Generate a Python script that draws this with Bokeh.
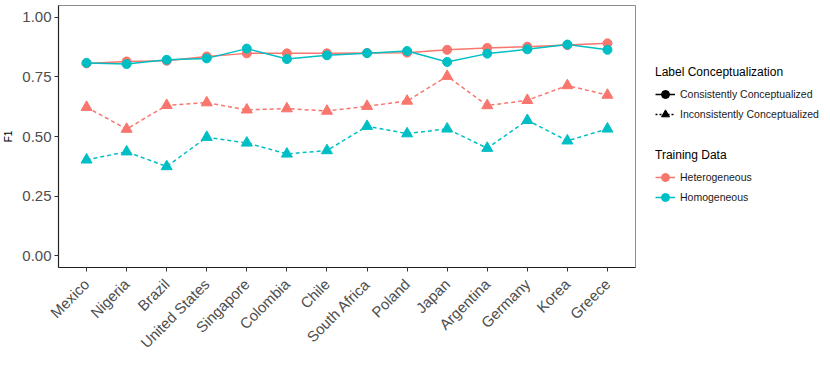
from bokeh.plotting import figure
from bokeh.layouts import row
from bokeh.models import (ColumnDataSource, FactorRange, Range1d, FixedTicker,
                          PrintfTickFormatter, Legend, LegendItem)
from bokeh.embed import file_html
from bokeh.resources import INLINE
import math

countries = ["Mexico", "Nigeria", "Brazil", "United States", "Singapore", "Colombia",
             "Chile", "South Africa", "Poland", "Japan", "Argentina", "Germany",
             "Korea", "Greece"]
het_consistent = [0.807, 0.815, 0.818, 0.836, 0.849, 0.849, 0.849, 0.851, 0.852,
                  0.864, 0.872, 0.877, 0.884, 0.891]
hom_consistent = [0.809, 0.804, 0.822, 0.828, 0.869, 0.825, 0.841, 0.850, 0.859,
                  0.813, 0.848, 0.866, 0.886, 0.864]
het_inconsistent = [0.623, 0.531, 0.631, 0.642, 0.612, 0.617, 0.607, 0.627, 0.649,
                    0.753, 0.630, 0.652, 0.714, 0.674]
hom_inconsistent = [0.402, 0.436, 0.374, 0.497, 0.473, 0.427, 0.441, 0.543, 0.512,
                    0.532, 0.451, 0.568, 0.482, 0.532]
y_ticks = [0.0, 0.25, 0.5, 0.75, 1.0]

RED = "#F8766D"
TEAL = "#00BFC4"
FONT = "Liberation Sans"
LW = 1.5
DASH = "4 3"

p = figure(width=636, height=374, output_backend="svg", toolbar_location=None,
           x_range=FactorRange(*countries, range_padding=0.2,
                               range_padding_units="absolute"),
           y_range=Range1d(-0.05, 1.05),
           min_border_left=58, min_border_right=1, min_border_top=5,
           min_border_bottom=107)
p.background_fill_color = "white"
p.border_fill_color = "white"
p.outline_line_color = "#8c8c8c"
p.outline_line_width = 1
p.xgrid.visible = False
p.ygrid.visible = False

for ax in (p.xaxis[0], p.yaxis[0]):
    ax.axis_line_color = "#222222"
    ax.axis_line_width = 1.2
    ax.major_tick_line_color = "#333333"
    ax.major_tick_out = 4
    ax.major_tick_in = 0
    ax.minor_tick_line_color = None
    ax.major_label_text_color = "#4D4D4D"
    ax.major_label_text_font = FONT
    ax.major_label_text_font_size = "15px"
    ax.major_label_standoff = 3

p.xaxis.major_label_orientation = math.pi / 4
p.xaxis.major_label_standoff = 10
p.yaxis.ticker = FixedTicker(ticks=y_ticks)
p.yaxis.formatter = PrintfTickFormatter(format="%.2f")
p.yaxis.axis_label = "F1"
p.yaxis.axis_label_text_font = FONT
p.yaxis.axis_label_text_font_size = "10px"
p.yaxis.axis_label_text_font_style = "normal"
p.yaxis.axis_label_text_color = "#000000"
p.yaxis.axis_label_standoff = 5

src = ColumnDataSource(dict(country=countries, het_c=het_consistent, hom_c=hom_consistent,
                            het_i=het_inconsistent, hom_i=hom_inconsistent))

p.line("country", "het_i", source=src, color=RED, line_width=LW, line_dash=DASH)
p.line("country", "hom_i", source=src, color=TEAL, line_width=LW, line_dash=DASH)
p.scatter("country", "het_i", source=src, marker="triangle", size=11,
          fill_color=RED, line_color=RED)
p.scatter("country", "hom_i", source=src, marker="triangle", size=11,
          fill_color=TEAL, line_color=TEAL)
p.line("country", "het_c", source=src, color=RED, line_width=LW)
p.line("country", "hom_c", source=src, color=TEAL, line_width=LW)
p.scatter("country", "het_c", source=src, marker="circle", size=9,
          fill_color=RED, line_color=RED)
p.scatter("country", "hom_c", source=src, marker="circle", size=9,
          fill_color=TEAL, line_color=TEAL)

# Legend panel as a separate, axis-less figure
q = figure(width=194, height=374, output_backend="svg", toolbar_location=None,
           x_range=Range1d(0, 1), y_range=Range1d(0, 1),
           min_border=0, min_border_left=0, min_border_right=0,
           min_border_top=0, min_border_bottom=0)
q.axis.visible = False
q.xgrid.visible = False
q.ygrid.visible = False
q.outline_line_color = None
q.background_fill_color = "white"
q.border_fill_color = "white"

# legend-only renderers: a single point placed outside the visible range
off = ColumnDataSource(dict(x=[-10], y=[-10]))
lc_line = q.line("x", "y", source=off, color="black", line_width=LW)
lc_pt = q.scatter("x", "y", source=off, marker="circle", size=9, color="black")
li_line = q.line("x", "y", source=off, color="black", line_width=LW, line_dash="2 2")
li_pt = q.scatter("x", "y", source=off, marker="triangle", size=11, color="black")
th_line = q.line("x", "y", source=off, color=RED, line_width=LW)
th_pt = q.scatter("x", "y", source=off, marker="circle", size=9, color=RED)
to_line = q.line("x", "y", source=off, color=TEAL, line_width=LW)
to_pt = q.scatter("x", "y", source=off, marker="circle", size=9, color=TEAL)


def make_legend(title, items, loc):
    lg = Legend(title=title, items=items, location=loc, orientation="vertical")
    lg.border_line_color = None
    lg.background_fill_alpha = 0
    lg.padding = 0
    lg.margin = 0
    lg.spacing = 0
    lg.glyph_width = 20
    lg.glyph_height = 20
    lg.label_height = 20
    lg.label_standoff = 5
    lg.label_text_font = FONT
    lg.label_text_font_size = "10.5px"
    lg.label_text_color = "#1a1a1a"
    lg.title_text_font = FONT
    lg.title_text_font_size = "12px"
    lg.title_text_font_style = "normal"
    lg.title_text_color = "#000000"
    lg.title_standoff = 5
    return lg


leg1 = make_legend("Label Conceptualization", [
    LegendItem(label="Consistently Conceptualized", renderers=[lc_line, lc_pt]),
    LegendItem(label="Inconsistently Conceptualized", renderers=[li_line, li_pt]),
], (19, 143))
leg2 = make_legend("Training Data", [
    LegendItem(label="Heterogeneous", renderers=[th_line, th_pt]),
    LegendItem(label="Homogeneous", renderers=[to_line, to_pt]),
], (19, 60))
q.add_layout(leg1, "center")
q.add_layout(leg2, "center")

layout = row(p, q, spacing=0)
open("out.html", "w").write(file_html(layout, INLINE))
